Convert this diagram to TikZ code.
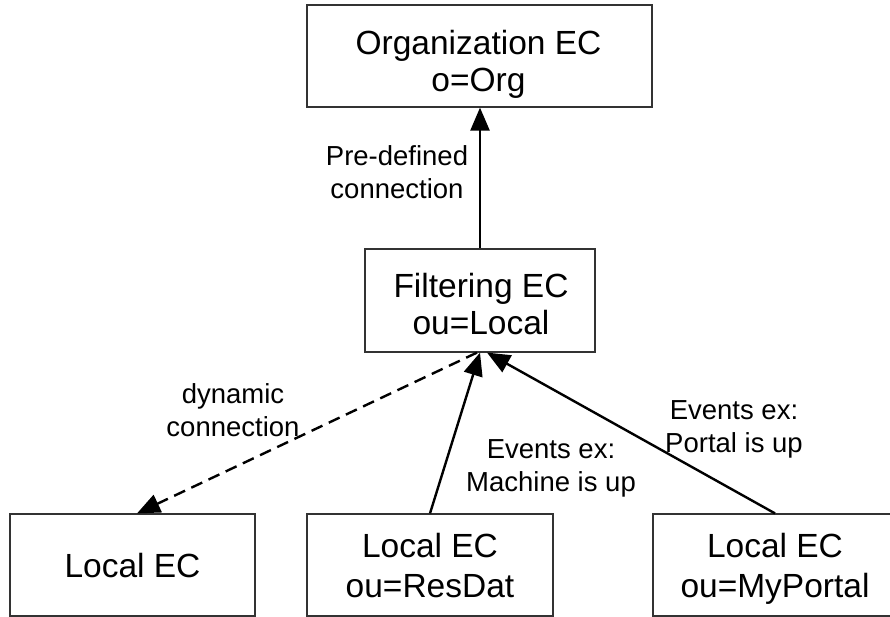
\documentclass[tikz,border=0pt]{standalone}
\usepackage{fontspec}
\setmainfont{Liberation Sans}
\usetikzlibrary{arrows.meta}
\begin{document}
\begin{tikzpicture}[x=1pt,y=-1pt,
  ecbox/.style={draw=black!80,line width=1.2pt,rectangle,inner sep=0pt},
  ectext/.style={align=center,inner sep=0pt,font=\fontsize{33.5}{37}\selectfont},
  ectextb/.style={align=center,inner sep=0pt,font=\fontsize{33.5}{40}\selectfont},
  lbl/.style={align=center,inner sep=0pt,font=\fontsize{27.5}{33}\selectfont},
  conn/.style={line width=2.4pt,-{Triangle[length=23pt,width=19pt]}},
  dconn/.style={conn,dash pattern=on 12pt off 7pt}]
\useasboundingbox (0,0) rectangle (890,617);
% boxes
\node[ecbox,minimum width=345pt,minimum height=102pt] (org) at (479.5,56) {};
\node[ecbox,minimum width=230pt,minimum height=103pt] (filt) at (480,300.5) {};
\node[ecbox,minimum width=245pt,minimum height=102pt] (loc1) at (132.5,565) {};
\node[ecbox,minimum width=246pt,minimum height=102pt] (loc2) at (430,565) {};
\node[ecbox,minimum width=245pt,minimum height=102pt] (loc3) at (775.5,565) {};
% box texts
\node[ectext] (orgt) at (478.5,64) {Organization EC\\o=Org};
\node[ectext] (filtt) at (481,304) {Filtering EC\\ou=Local};
\node[ectext] (loc1t) at (132.5,565.5) {Local EC};
\node[ectextb] (loc2t) at (430,566) {Local EC\\ou=ResDat};
\node[ectextb] (loc3t) at (775,569) {Local EC\\ou=MyPortal};
% connectors
\draw[conn] (filt.north) -- (filt.north |- org.south);
\draw[dconn] ([xshift=-3pt]filt.south) -- ([xshift=4.5pt]loc1.north);
\draw[conn] (loc2.north) -- (filt.south);
\draw[conn] ([xshift=-0.5pt]loc3.north) -- ([xshift=7pt]filt.south);
% labels
\node[lbl] (l1) at (397,172) {Pre-defined\\connection};
\node[lbl] (l2) at (233,410) {dynamic\\connection};
\node[lbl] (l3) at (551,468) {Events ex:\\Machine is up};
\node[lbl] (l4) at (734,429.5) {Events ex:\\Portal is up};
\end{tikzpicture}
\end{document}
